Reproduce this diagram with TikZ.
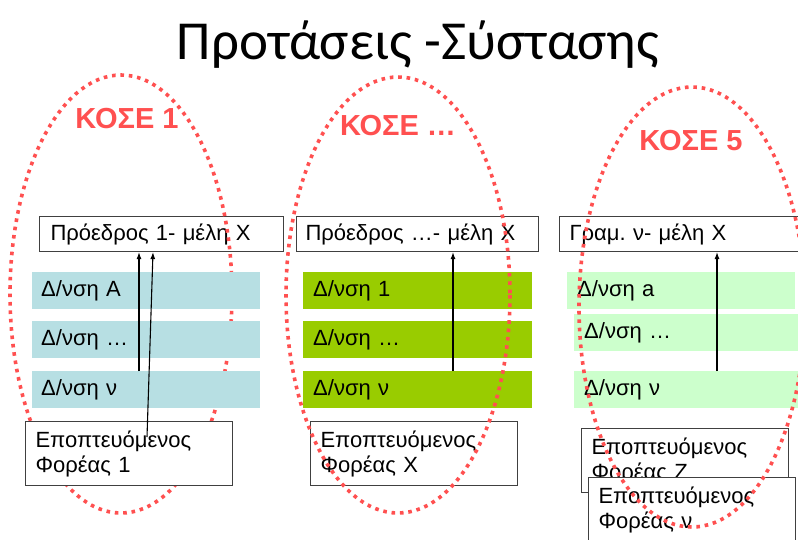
\documentclass[tikz,border=0pt]{standalone}
\usepackage{fontspec}
\setmainfont{Liberation Sans}
\newfontfamily\titlefont{Carlito}
\usetikzlibrary{arrows.meta}
\frenchspacing
\definecolor{kred}{HTML}{FF5050}
\definecolor{cyanbar}{HTML}{B7DFE3}
\definecolor{greenbar}{HTML}{99CC00}
\definecolor{lightbar}{HTML}{CCFFCC}
\tikzset{
  wbox/.style={draw=black!75, line width=1.1pt, fill=white, anchor=north west,
    inner xsep=10pt, inner ysep=0pt, align=left,
    font=\frenchspacing\fontsize{22}{25}\selectfont},
  bar/.style={anchor=north west, inner xsep=9pt, inner ysep=0pt, align=left,
    minimum height=37pt, font=\fontsize{22}{25}\selectfont},
  kose/.style={text=kred, anchor=base, font=\bfseries\fontsize{29}{32}\selectfont},
  dotring/.style={draw=kred, line width=3.6pt, dash pattern=on 3.6pt off 4.8pt},
  arr/.style={draw=black, line width=1.1pt, -{Latex[length=7pt,width=5pt]}}
}
\begin{document}
\begin{tikzpicture}[x=1pt,y=-1pt]
\clip (0,0) rectangle (798,539);
\fill[white] (0,0) rectangle (798,539);

% title
\node[anchor=base, font=\titlefont\fontsize{55}{60}\selectfont] (title) at (418,59) {Προτάσεις -Σύστασης};

% column 1
\node[wbox, minimum height=35pt, text width=222pt, inner xsep=11pt] (p1) at (39,216) {Πρόεδρος 1- μέλη Χ};
\draw[dotring] (121,294) ellipse [x radius=111, y radius=219];
\node[bar, fill=cyanbar, text width=210pt] (b11) at (32,272) {Δ/νση Α};
\node[bar, fill=cyanbar, text width=210pt] (b12) at (32,321) {Δ/νση …};
\node[bar, fill=cyanbar, text width=210pt] (b13) at (32,371) {Δ/νση ν};
\node[wbox, minimum height=64pt, text width=187pt] (e1) at (25,421) {Εποπτευόμενος\\Φορέας 1};
\node[kose] (k1) at (127,128) {ΚΟΣΕ 1};

% column 2
\node[wbox, minimum height=35pt, text width=224pt, inner xsep=9pt] (p2) at (296,216) {Πρόεδρος …- μέλη Χ};
\node[bar, fill=greenbar, text width=209pt, inner xsep=10pt] (b21) at (303,272) {Δ/νση 1};
\node[bar, fill=greenbar, text width=209pt, inner xsep=10pt] (b22) at (303,321) {Δ/νση …};
\node[bar, fill=greenbar, text width=209pt, inner xsep=10pt] (b23) at (303,371) {Δ/νση ν};
\node[wbox, minimum height=64pt, text width=187pt] (e2) at (310,421) {Εποπτευόμενος\\Φορέας Χ};
\node[kose] (k2) at (398,135) {ΚΟΣΕ …};

% column 3
\node[wbox, minimum height=35pt, text width=225pt] (p3) at (559,216) {Γραμ. ν- μέλη Χ};
\node[bar, fill=lightbar, text width=208pt, inner xsep=10pt] (b31) at (567,272) {Δ/νση a};
\node[bar, fill=lightbar, text width=206pt, inner xsep=10pt] (b32) at (574,314) {Δ/νση …};
\node[bar, fill=lightbar, text width=206pt, inner xsep=10pt] (b33) at (574,371) {Δ/νση ν};
\node[wbox, minimum height=64pt, text width=187pt] (e3) at (581,428) {Εποπτευόμενος\\Φορέας Ζ};
\node[wbox, minimum height=64pt, text width=187pt] (e4) at (588,477) {Εποπτευόμενος\\Φορέας ν};
\node[kose] (k3) at (691,150) {ΚΟΣΕ 5};

% rings on top
\draw[dotring] (398,295) ellipse [x radius=112, y radius=218];
\draw[dotring] (692,307) ellipse [x radius=113, y radius=220];

% arrows
\coordinate (a1) at (139,0);
\coordinate (a2) at (153,0);
\coordinate (s2) at (147,437);
\coordinate (a3) at (453,0);
\coordinate (a4) at (717,0);
\draw[arr] (b13.north -| a1) -- (p1.south -| a1);
\draw[arr] (s2) -- (p1.south -| a2);
\draw[arr] (b23.north -| a3) -- (p2.south -| a3);
\draw[arr] (b33.north -| a4) -- (p3.south -| a4);
\end{tikzpicture}
\end{document}
